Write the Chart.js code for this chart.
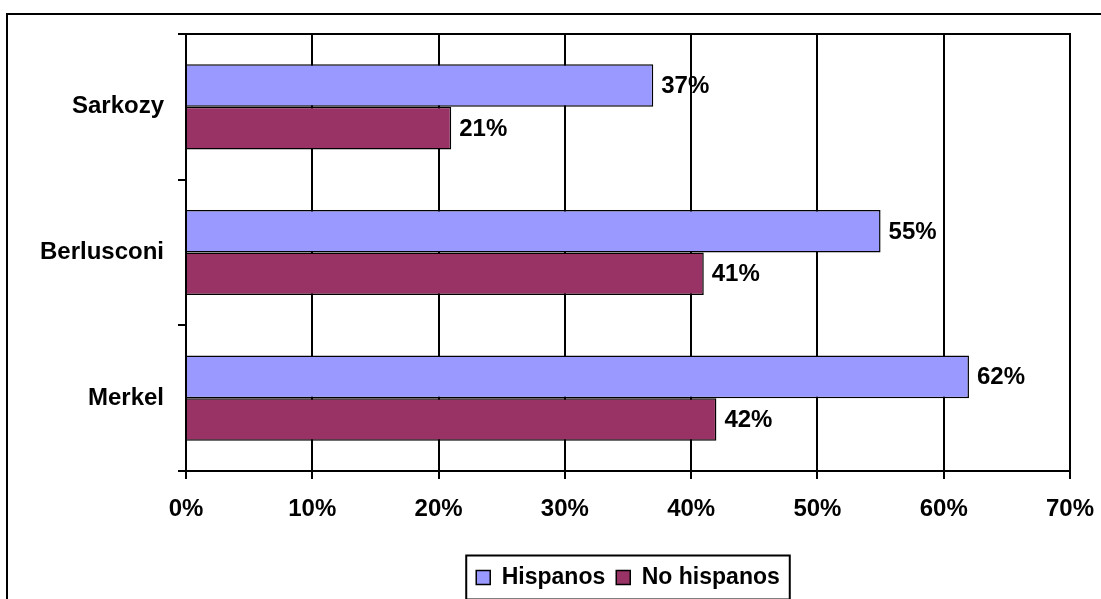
<!DOCTYPE html>
<html>
<head>
    <title>Hispanos / No hispanos</title>
    <script src="https://cdn.jsdelivr.net/npm/chart.js"></script>
    <style>
        html, body {
            margin: 0;
            padding: 0;
            background: #ffffff;
            overflow: hidden;
        }
        .frame {
            position: absolute;
            left: 6px;
            top: 13px;
            width: 1200px;
            height: 700px;
            border: 2px solid #000000;
        }
        .chart-box {
            position: absolute;
            left: 0;
            top: 0;
            width: 1101px;
            height: 599px;
        }
    </style>
</head>
<body>
    <div class="frame"></div>
    <div class="chart-box">
        <canvas id="barChart" width="1101" height="599"></canvas>
    </div>

    <script>
        // datos
        const categories = ['Sarkozy', 'Berlusconi', 'Merkel'];
        const hispanos = [37, 55, 62];
        const noHispanos = [21, 41, 42];
        const xTicks = [0, 10, 20, 30, 40, 50, 60, 70];

        const fontFamily = 'Arial, "Liberation Sans", sans-serif';
        const axisFont = { family: fontFamily, size: 24, weight: 'bold' };
        const legendFont = { family: fontFamily, size: 23, weight: 'bold' };

        // etiquetas de valor al final de cada barra
        const valueLabels = {
            id: 'valueLabels',
            afterDatasetsDraw(chart) {
                const ctx = chart.ctx;
                ctx.save();
                ctx.font = 'bold 24px ' + fontFamily;
                ctx.fillStyle = '#000000';
                ctx.textAlign = 'left';
                ctx.textBaseline = 'middle';
                chart.data.datasets.forEach((ds, i) => {
                    chart.getDatasetMeta(i).data.forEach((bar, j) => {
                        ctx.fillText(ds.data[j] + '%', bar.x + 8, bar.y + 1);
                    });
                });
                ctx.restore();
            }
        };

        // borde superior del área de trazado y marco de la leyenda
        const frames = {
            id: 'frames',
            afterDraw(chart) {
                const ctx = chart.ctx;
                const a = chart.chartArea;
                ctx.save();
                ctx.strokeStyle = '#000000';
                ctx.lineWidth = 2;
                ctx.beginPath();
                ctx.moveTo(a.left - 8, a.top);
                ctx.lineTo(a.right + 1, a.top);
                ctx.stroke();

                const boxes = chart.legend.legendHitBoxes;
                if (boxes && boxes.length) {
                    const first = boxes[0];
                    const last = boxes[boxes.length - 1];
                    const left = first.left - 10;
                    const right = last.left + last.width + 10;
                    const mid = first.top + first.height / 2;
                    ctx.lineWidth = 2;
                    ctx.strokeRect(left, mid - 22, right - left, 44);
                }
                ctx.restore();
            }
        };

        const ctx = document.getElementById('barChart').getContext('2d');
        const chart = new Chart(ctx, {
            type: 'bar',
            data: {
                labels: categories,
                datasets: [
                    {
                        label: 'Hispanos',
                        data: hispanos,
                        backgroundColor: '#9999FF',
                        borderColor: '#000000',
                        borderWidth: 1.5
                    },
                    {
                        label: 'No hispanos',
                        data: noHispanos,
                        backgroundColor: '#993366',
                        borderColor: '#000000',
                        borderWidth: 1.5
                    }
                ]
            },
            options: {
                indexAxis: 'y',
                responsive: false,
                animation: false,
                categoryPercentage: 0.585,
                barPercentage: 1,
                layout: {
                    padding: { left: 0, right: 31, top: 34, bottom: 0 }
                },
                plugins: {
                    title: { display: false },
                    tooltip: { enabled: false },
                    legend: {
                        position: 'bottom',
                        fullSize: false,
                        labels: {
                            color: '#000000',
                            font: legendFont,
                            boxWidth: 14,
                            boxHeight: 14,
                            padding: 11
                        }
                    }
                },
                scales: {
                    x: {
                        min: 0,
                        max: 70,
                        afterBuildTicks(scale) {
                            scale.ticks = xTicks.map(v => ({ value: v }));
                        },
                        afterFit(scale) {
                            scale.height = 84;
                            scale.paddingLeft = 0;
                            scale.paddingRight = 0;
                        },
                        ticks: {
                            color: '#000000',
                            font: axisFont,
                            padding: 16,
                            maxRotation: 0,
                            callback: v => v + '%'
                        },
                        grid: {
                            color: '#000000',
                            lineWidth: 2,
                            tickLength: 8,
                            drawOnChartArea: true,
                            drawTicks: true
                        },
                        border: { color: '#000000', width: 2 }
                    },
                    y: {
                        afterFit(scale) {
                            scale.width = 186;
                            scale.paddingTop = 0;
                            scale.paddingBottom = 0;
                        },
                        ticks: {
                            color: '#000000',
                            font: axisFont,
                            padding: 14
                        },
                        grid: {
                            offset: true,
                            color: '#000000',
                            lineWidth: 2,
                            tickLength: 8,
                            drawOnChartArea: false,
                            drawTicks: true
                        },
                        border: { color: '#000000', width: 2 }
                    }
                }
            },
            plugins: [valueLabels, frames]
        });
    </script>
</body>
</html>
